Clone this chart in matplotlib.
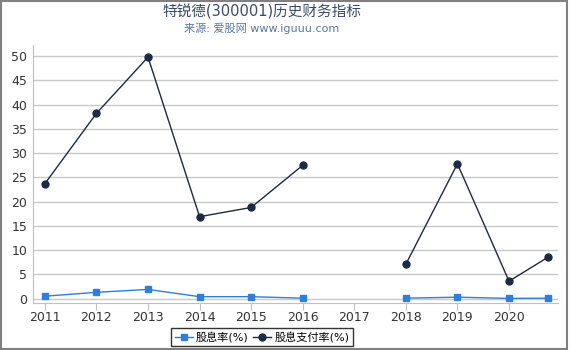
import numpy as np
import matplotlib.pyplot as plt
from matplotlib.patches import Rectangle

plt.rcParams['font.family'] = ['DejaVu Sans', 'Noto Sans CJK SC']

# data (2017 has no value)
years = [2011, 2012, 2013, 2014, 2015, 2016, 2017, 2018, 2019, 2020, 2020.75]
tick_years = [2011, 2012, 2013, 2014, 2015, 2016, 2017, 2018, 2019, 2020]
dividend_yield = [0.5, 1.3, 1.9, 0.4, 0.4, 0.1, np.nan, 0.1, 0.3, 0.05, 0.1]
payout_ratio = [23.7, 38.2, 49.8, 16.9, 18.8, 27.5, np.nan, 7.1, 27.8, 3.6, 8.5]

fig = plt.figure(figsize=(5.7, 3.5), dpi=100)
ax = fig.add_axes([33/570, 1-303/350, (558-33)/570, (303-45)/350])

ax.plot(years, dividend_yield, color='#2f7ed8', lw=1, marker='s', ms=5,
        label='股息率(%)')
ax.plot(years, payout_ratio, color='#1c2a44', lw=1, marker='o', ms=5,
        label='股息支付率(%)')

ax.set_xlim(2010.77, 2020.95)
ax.set_ylim(-0.9, 52.3)
ax.set_yticks(range(0, 51, 5))
ax.set_xticks(tick_years)
ax.set_xticklabels([str(y) for y in tick_years])
ax.yaxis.grid(True, color='#c8c8c8', lw=1)
ax.set_axisbelow(True)
for s in ['top', 'right']:
    ax.spines[s].set_visible(False)
ax.spines['left'].set_color('#c0c0c0')
ax.spines['bottom'].set_color('#c0c0c0')
ax.tick_params(axis='y', length=0, labelsize=9, colors='#333333', pad=4)
ax.tick_params(axis='x', length=5, color='#c0c0c0', labelsize=9, colors='#333333', pad=1)

cx = 262/570
fig.text(cx, 0.966, '特锐德(300001)历史财务指标', ha='center', va='center',
         fontsize=10.5, color='#3a4a6a')
fig.text(cx, 0.918, '来源: 爱股网 www.iguuu.com', ha='center', va='center',
         fontsize=8, color='#5a78a0')

leg = fig.legend(loc='center', bbox_to_anchor=(cx, 1-337/350), ncol=2,
                 frameon=True, fontsize=8, handlelength=1.6, handletextpad=0.3,
                 columnspacing=0.4, borderpad=0.35, fancybox=False)
leg.get_frame().set_edgecolor('black')
leg.get_frame().set_linewidth(1)

fig.patches.append(Rectangle((0.002, 0.004), 0.992, 0.994, transform=fig.transFigure,
                             fill=False, edgecolor='#808080', lw=1.5))

fig.savefig('out.png', dpi=100)
